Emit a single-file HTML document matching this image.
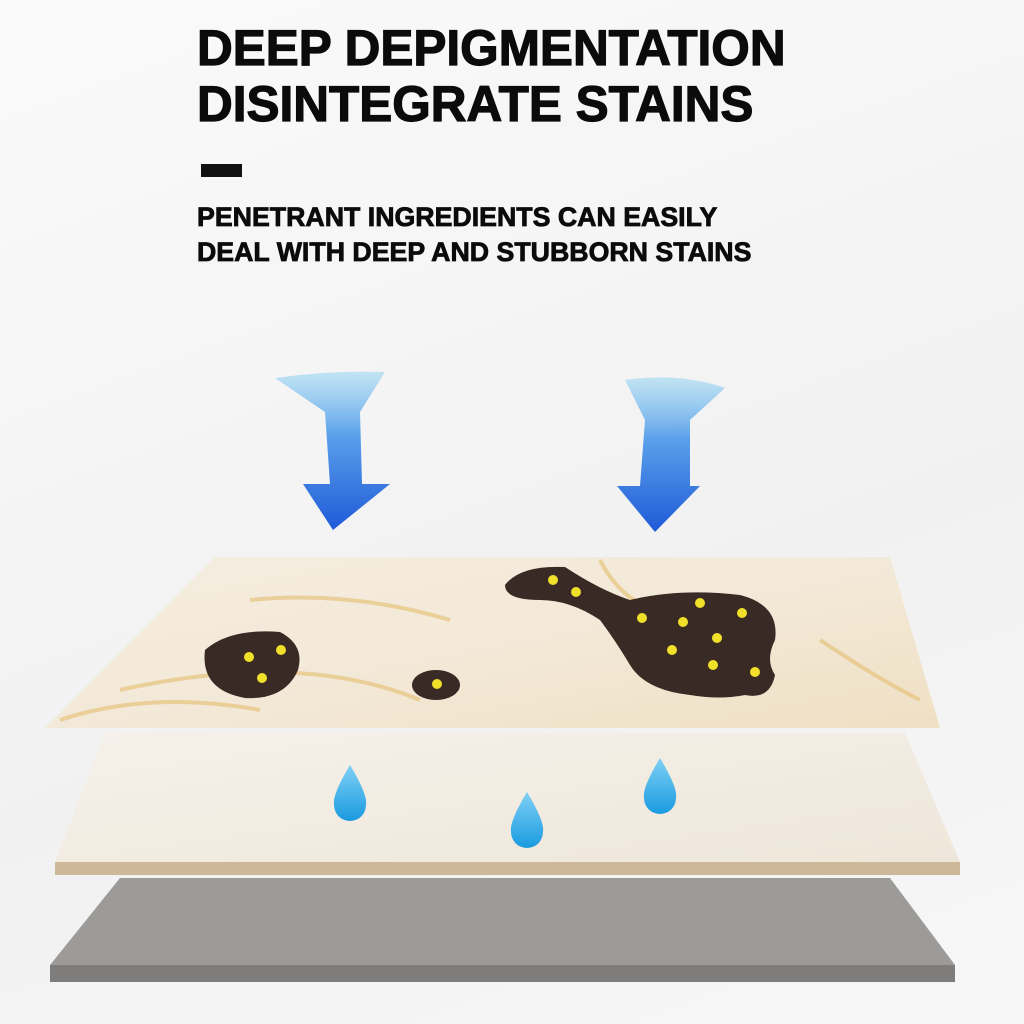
<!DOCTYPE html>
<html><head><meta charset="utf-8"><style>
html,body{margin:0;padding:0;background:#f6f6f6;}
.wrap{position:relative;width:1024px;height:1024px;overflow:hidden;background:linear-gradient(160deg,#fafafa,#f1f1f1 60%,#f7f7f7);font-family:"Liberation Sans",sans-serif;}
.t{position:absolute;left:197px;font-weight:bold;color:#0b0b0b;white-space:nowrap;-webkit-text-stroke:1.2px #0b0b0b;}
</style></head><body><div class="wrap">
<div class="t" style="top:20px;font-size:50px;transform:scaleX(0.99);transform-origin:left;line-height:56px">DEEP DEPIGMENTATION<br>DISINTEGRATE STAINS</div>
<div style="position:absolute;left:201px;top:164px;width:41px;height:13px;background:#111"></div>
<div class="t" style="top:200px;font-size:27px;line-height:35px;transform:scaleX(0.99);transform-origin:left;-webkit-text-stroke:0.8px #0b0b0b">PENETRANT INGREDIENTS CAN EASILY<br>DEAL WITH DEEP AND STUBBORN STAINS</div>
<svg width="1024" height="1024" style="position:absolute;left:0;top:0">
<defs>
<linearGradient id="ar" x1="0" y1="0" x2="0" y2="1"><stop offset="0" stop-color="#9fd8f2" stop-opacity="0.6"/><stop offset="0.4" stop-color="#5aa0ea"/><stop offset="1" stop-color="#1f5ad8"/></linearGradient>
<linearGradient id="mb" x1="0" y1="0" x2="1" y2="1"><stop offset="0" stop-color="#f5ede0"/><stop offset="0.5" stop-color="#f3e9d8"/><stop offset="1" stop-color="#efe0c4"/></linearGradient>
<linearGradient id="mm" x1="0" y1="0" x2="1" y2="1"><stop offset="0" stop-color="#f5f1ea"/><stop offset="1" stop-color="#eee6d9"/></linearGradient>
<linearGradient id="dr" x1="0" y1="0" x2="0" y2="1"><stop offset="0" stop-color="#7fd0f5"/><stop offset="1" stop-color="#1a9be0"/></linearGradient>
</defs>
<path d="M275,378 Q330,370 385,372 L360,412 L362,484 L390,484 L333,530 L303,484 L330,484 L325,412 Z" fill="url(#ar)"/>
<path d="M625,380 Q680,372 725,388 L690,420 L690,486 L700,486 L655,532 L617,486 L640,486 L645,420 Z" fill="url(#ar)"/>
<polygon points="120,878 890,878 955,965 50,965" fill="#9d9b99"/>
<polygon points="50,965 955,965 955,982 50,982" fill="#7f7d7b"/>
<polygon points="105,733 905,733 960,862 55,862" fill="url(#mm)"/>
<polygon points="55,862 960,862 960,875 55,875" fill="#cdb999"/>
<polygon points="215,557 890,557 940,728 45,728" fill="url(#mb)"/>
<path d="M120,690 Q300,650 420,700 M600,560 Q640,640 760,610 M820,640 Q880,680 920,700 M250,600 Q350,590 450,620 M60,720 Q150,690 260,710" stroke="#e5c37e" stroke-width="4" fill="none" opacity="0.7"/>
<path d="M205,650 Q230,628 280,632 Q305,645 298,670 Q285,700 245,698 Q200,690 205,650 Z" fill="#3a2a25"/>
<ellipse cx="436" cy="685" rx="24" ry="15" fill="#3a2a25"/>
<path d="M505,585 Q520,565 565,567 Q600,590 630,600 Q680,588 740,595 Q780,605 775,640 Q765,660 775,675 Q770,700 745,695 Q720,700 690,695 Q645,690 630,665 Q615,640 600,620 Q570,600 540,600 Q505,600 505,585 Z" fill="#3a2a25"/>
<g fill="#f1e02a">
<circle cx="249" cy="657" r="5"/><circle cx="281" cy="650" r="5"/><circle cx="262" cy="678" r="5"/><circle cx="437" cy="684" r="5"/>
<circle cx="553" cy="580" r="5"/><circle cx="576" cy="592" r="5"/><circle cx="642" cy="618" r="5"/><circle cx="683" cy="622" r="5"/><circle cx="742" cy="613" r="5"/><circle cx="700" cy="603" r="5"/><circle cx="717" cy="638" r="5"/><circle cx="672" cy="650" r="5"/><circle cx="713" cy="665" r="5"/><circle cx="755" cy="672" r="5"/>
</g>
<path d="M350,765 Q368,795 366,805 A16,16 0 0 1 334,805 Q332,795 350,765 Z" fill="url(#dr)"/>
<path d="M527,792 Q545,822 543,832 A16,16 0 0 1 511,832 Q509,822 527,792 Z" fill="url(#dr)"/>
<path d="M660,758 Q678,788 676,798 A16,16 0 0 1 644,798 Q642,788 660,758 Z" fill="url(#dr)"/>
</svg>
</div></body></html>
